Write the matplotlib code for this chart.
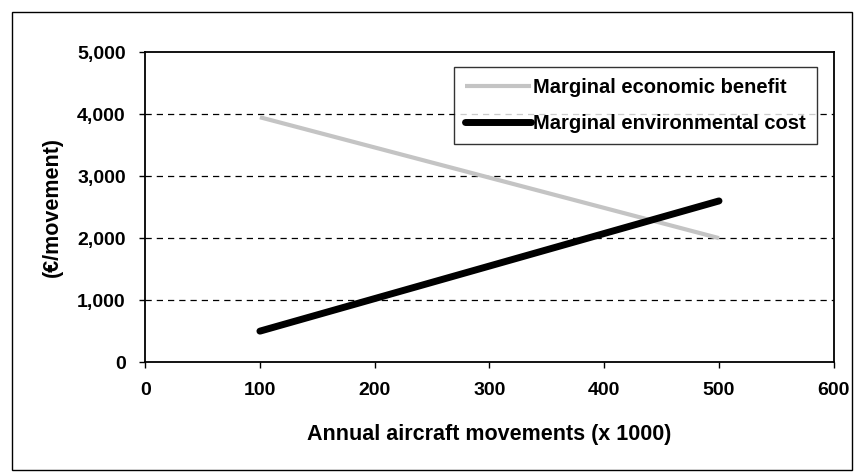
import matplotlib.pyplot as plt
from matplotlib.patches import Rectangle

# data
movements = [100, 500]
benefit = [3950, 2000]
env_cost = [500, 2600]
x_ticks = [0, 100, 200, 300, 400, 500, 600]
y_ticks = [0, 1000, 2000, 3000, 4000, 5000]

plt.rcParams['font.family'] = ['Liberation Sans', 'DejaVu Sans']
plt.rcParams['font.weight'] = 'bold'

fig = plt.figure(figsize=(8.64, 4.74), dpi=100)
ax = fig.add_axes([0.168, 0.236, 0.797, 0.654])

ax.plot(movements, benefit, color='#c4c4c4', lw=3, solid_capstyle='butt',
        label='Marginal economic benefit')
ax.plot(movements, env_cost, color='black', lw=5, solid_capstyle='round',
        label='Marginal environmental cost')

ax.set_xlim(0, 600)
ax.set_ylim(0, 5000)
ax.set_xticks(x_ticks)
ax.set_yticks(y_ticks)
ax.set_yticklabels([f'{v:,}' for v in y_ticks])
ax.tick_params(labelsize=14, length=4, width=1, direction='out', pad=10)
for lab in ax.get_xticklabels() + ax.get_yticklabels():
    lab.set_fontweight('bold')

for v in y_ticks[1:-1]:
    ax.axhline(v, color='black', lw=0.9, ls=(0, (5, 4)), zorder=0)

for s in ax.spines.values():
    s.set_linewidth(1.3)

ax.set_xlabel('Annual aircraft movements (x 1000)', fontsize=15.5,
              fontweight='bold', labelpad=18)
ax.set_ylabel('(€/movement)', fontsize=15.5, fontweight='bold', labelpad=10)

leg = ax.legend(loc='upper right', bbox_to_anchor=(0.99, 0.985),
                fontsize=14.5, frameon=True, fancybox=False, handlelength=3.3,
                handletextpad=0.1, borderpad=0.55, labelspacing=0.85)
leg.get_frame().set_edgecolor('black')
leg.get_frame().set_linewidth(1)

fig.patches.append(Rectangle((12 / 864, 4 / 474), 840 / 864, 458 / 474,
                             transform=fig.transFigure, fill=False,
                             edgecolor='black', lw=1))

fig.savefig('out.png', dpi=100)
